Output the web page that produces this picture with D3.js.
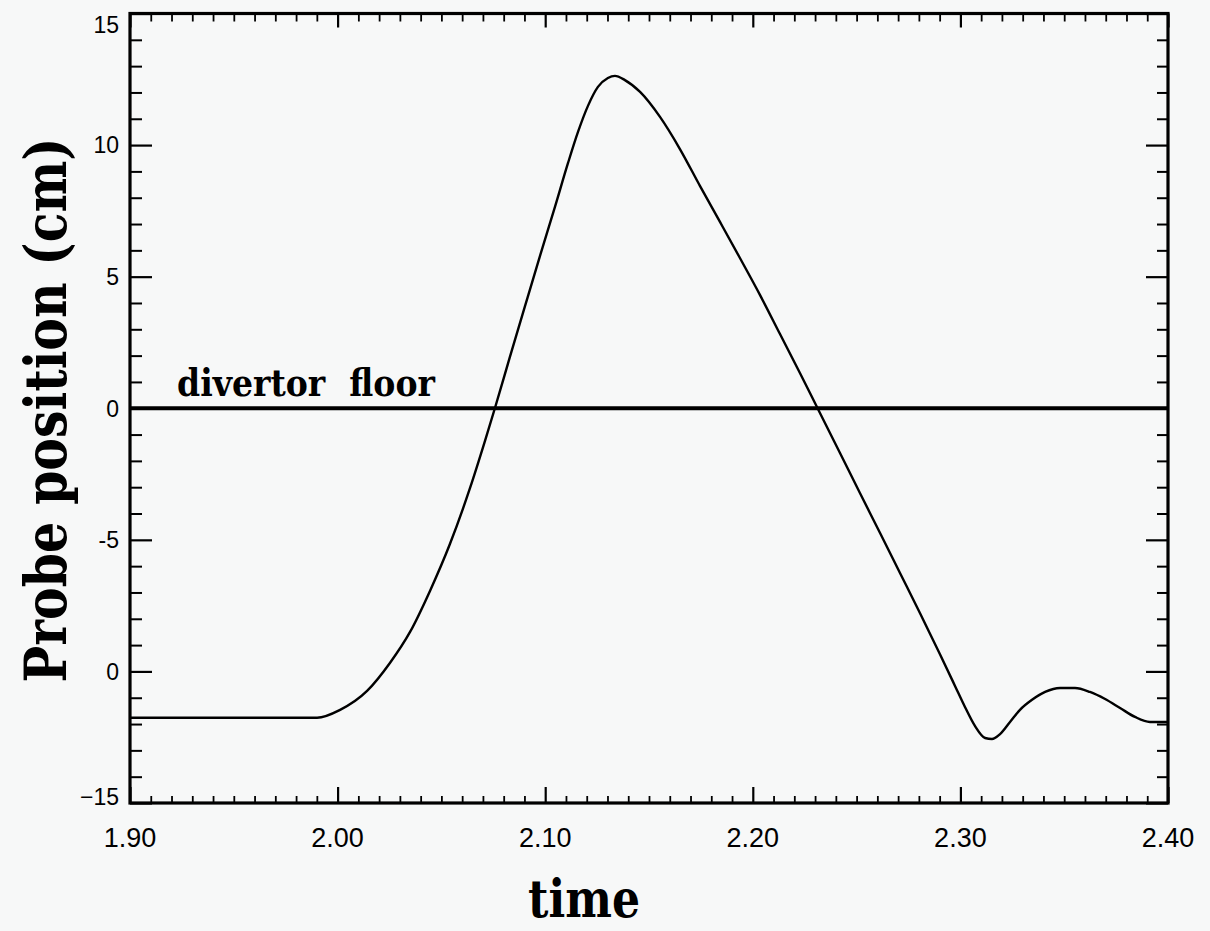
<!DOCTYPE html>
<html>
<head>
<meta charset="utf-8">
<script src="https://cdn.jsdelivr.net/npm/d3@7"></script>
<style>
  html, body { margin: 0; padding: 0; background: #f7f8f8; }
  svg { display: block; }
</style>
</head>
<body>
<svg id="chart" width="1210" height="931"></svg>
<script>
// ---- data ----
const xTickValues = [1.90, 2.00, 2.10, 2.20, 2.30, 2.40];
const xTickLabels = ["1.90", "2.00", "2.10", "2.20", "2.30", "2.40"];
const yTickValues = [15, 10, 5, 0, -5, -10, -15];
const yTickLabels = ["15", "10", "5", "0", "-5", "0", "\u221215"];
const times = [1.9000, 1.9337, 1.9723, 1.9901, 2.0012, 2.0142, 2.0252, 2.0349, 2.0445, 2.0541,
  2.0638, 2.0710, 2.0758, 2.0830, 2.0903, 2.0975, 2.1047, 2.1110, 2.1158, 2.1206,
  2.1254, 2.1302, 2.1336, 2.1384, 2.1457, 2.1553, 2.1649, 2.1746, 2.1842, 2.1938,
  2.2035, 2.2131, 2.2227, 2.2309, 2.2420, 2.2516, 2.2613, 2.2709, 2.2805, 2.2901,
  2.2974, 2.3022, 2.3070, 2.3119, 2.3152, 2.3191, 2.3239, 2.3287, 2.3345, 2.3408,
  2.3480, 2.3552, 2.3624, 2.3697, 2.3769, 2.3841, 2.3913, 2.4000];
const positions = [-11.76, -11.76, -11.76, -11.76, -11.46, -10.74, -9.68, -8.50, -6.94, -5.16,
  -3.03, -1.24, 0.01, 1.95, 3.89, 5.79, 7.65, 9.32, 10.50, 11.49,
  12.21, 12.55, 12.63, 12.47, 12.02, 11.07, 9.85, 8.44, 7.08, 5.71,
  4.30, 2.82, 1.34, 0.05, -1.70, -3.22, -4.74, -6.26, -7.78, -9.34,
  -10.55, -11.35, -12.07, -12.53, -12.57, -12.38, -11.92, -11.46, -11.08, -10.78,
  -10.63, -10.63, -10.78, -11.05, -11.39, -11.73, -11.92, -11.92];
const floorLevel = 0;
const floorLabel = "divertor floor";
const xTitle = "time";
const yTitle = "Probe position (cm)";

// ---- layout ----
const L = 130, R = 1168, T = 13.5, B = 803;
const svg = d3.select("#chart");
const x = d3.scaleLinear().domain([1.90, 2.40]).range([L, R]);
const y = d3.scaleLinear().domain([-15, 15]).range([B, T]);

const xMinor = d3.range(0, 51).map(i => +(1.90 + i * 0.01).toFixed(2))
  .filter(v => !xTickValues.some(m => Math.abs(m - v) < 1e-6));
const yMinor = d3.range(-15, 16).filter(v => !yTickValues.includes(v));

function styleAxis(g, w) {
  g.select(".domain").remove();
  g.selectAll("line").attr("stroke", "#000").attr("stroke-width", w);
  g.selectAll("text").remove();
}

// bottom ticks (inward)
svg.append("g").attr("transform", `translate(0,${B})`)
  .call(d3.axisBottom(x).tickValues(xTickValues).tickSize(-16)).call(g => styleAxis(g, 2.2));
svg.append("g").attr("transform", `translate(0,${B})`)
  .call(d3.axisBottom(x).tickValues(xMinor).tickSize(-7)).call(g => styleAxis(g, 1.8));
// top ticks
svg.append("g").attr("transform", `translate(0,${T})`)
  .call(d3.axisTop(x).tickValues(xTickValues).tickSize(-14)).call(g => styleAxis(g, 2.2));
svg.append("g").attr("transform", `translate(0,${T})`)
  .call(d3.axisTop(x).tickValues(xMinor).tickSize(-8)).call(g => styleAxis(g, 1.8));
// left ticks
svg.append("g").attr("transform", `translate(${L},0)`)
  .call(d3.axisLeft(y).tickValues(yTickValues).tickSize(-22)).call(g => styleAxis(g, 2.2));
svg.append("g").attr("transform", `translate(${L},0)`)
  .call(d3.axisLeft(y).tickValues(yMinor).tickSize(-12)).call(g => styleAxis(g, 2));
// right ticks
svg.append("g").attr("transform", `translate(${R},0)`)
  .call(d3.axisRight(y).tickValues(yTickValues).tickSize(-22)).call(g => styleAxis(g, 2.2));
svg.append("g").attr("transform", `translate(${R},0)`)
  .call(d3.axisRight(y).tickValues(yMinor).tickSize(-11)).call(g => styleAxis(g, 2));

// frame
svg.append("rect").attr("x", L).attr("y", T).attr("width", R - L).attr("height", B - T)
  .attr("fill", "none").attr("stroke", "#000").attr("stroke-width", 3.2);

// tick labels
svg.append("g").selectAll("text").data(xTickValues).join("text")
  .attr("x", d => x(d)).attr("y", B + 44)
  .attr("text-anchor", "middle")
  .attr("font-family", "Liberation Sans, Arial, sans-serif").attr("font-size", 27)
  .attr("fill", "#000")
  .text((d, i) => xTickLabels[i]);

svg.append("g").selectAll("text").data(yTickValues).join("text")
  .attr("x", L - 11)
  .attr("y", d => Math.max(T + 11, Math.min(B - 6, y(d))))
  .attr("dy", "0.36em")
  .attr("text-anchor", "end")
  .attr("font-family", "Liberation Sans, Arial, sans-serif").attr("font-size", 23)
  .attr("fill", "#000")
  .text((d, i) => yTickLabels[i]);

// divertor floor line
svg.append("line")
  .attr("x1", x(1.90)).attr("x2", x(2.40))
  .attr("y1", y(floorLevel)).attr("y2", y(floorLevel))
  .attr("stroke", "#000").attr("stroke-width", 4);

// curve
const pts = times.map((t, i) => [t, positions[i]]);
svg.append("path").datum(pts)
  .attr("fill", "none").attr("stroke", "#000").attr("stroke-width", 2.4)
  .attr("stroke-linejoin", "round")
  .attr("d", d3.line().x(d => x(d[0])).y(d => y(d[1])).curve(d3.curveMonotoneX));

// fitted serif texts
function fitted(txt, size, width, tx, ty, rot, anchor, extra) {
  const g = svg.append("g");
  const t = g.append("text")
    .attr("font-family", "DejaVu Serif, serif").attr("font-weight", "bold")
    .attr("font-size", size).attr("fill", "#000")
    .attr("text-anchor", anchor)
    .text(txt);
  if (extra) extra(t);
  const w = t.node().getComputedTextLength();
  const sx = width / w;
  g.attr("transform", `translate(${tx},${ty}) rotate(${rot}) scale(${sx},1)`);
}

fitted(floorLabel, 37, 258, 177, 396, 0, "start", t => t.attr("word-spacing", 14));
fitted(xTitle, 52, 112, 584, 917, 0, "middle");
fitted(yTitle, 58, 545, 66, 410, -90, "middle");
</script>
</body>
</html>
